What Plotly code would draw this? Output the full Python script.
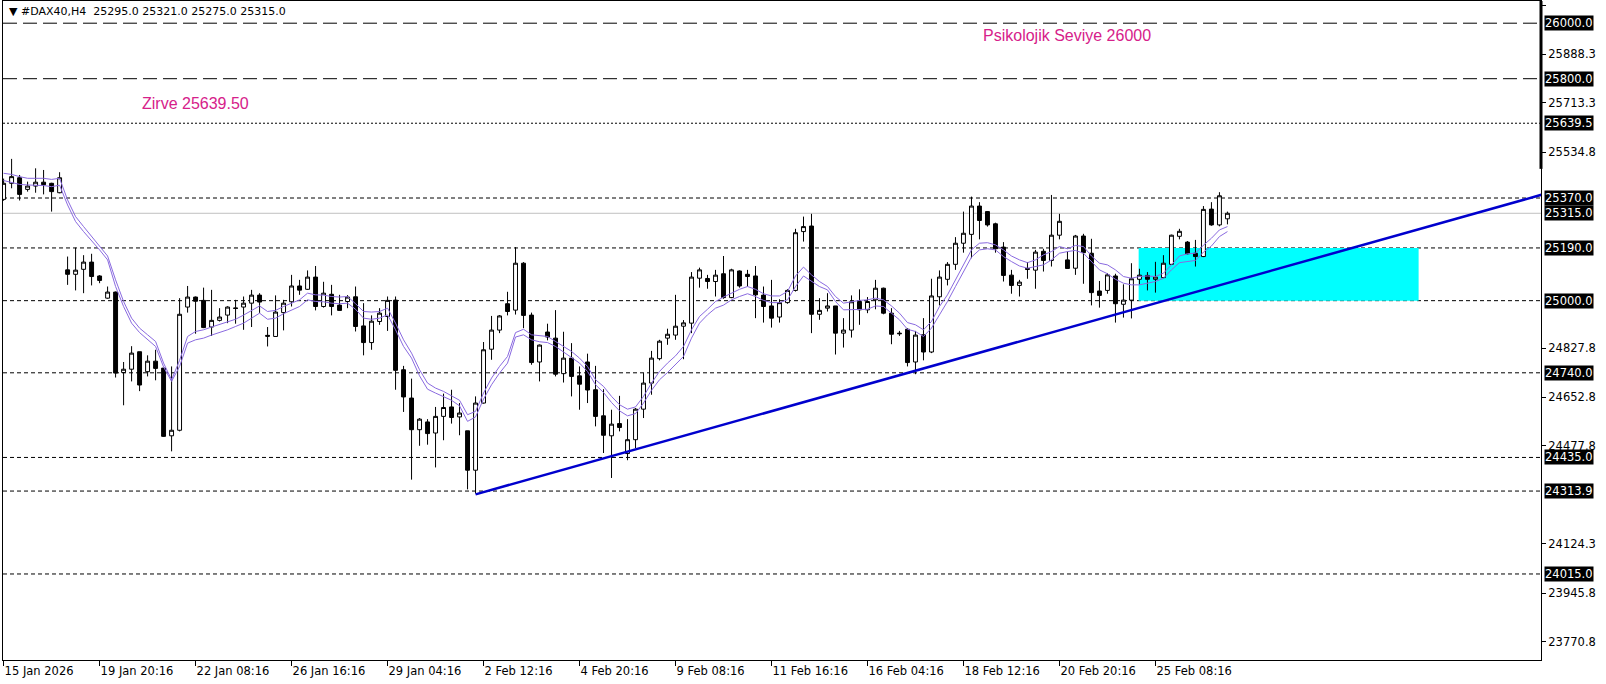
import plotly.graph_objects as go

# ---------------- data ----------------
opens = [
25365, 25423, 25443, 25401, 25413, 25427, 25423, 25389, 25111, 25095,
25113, 25139, 25089, 25009, 25031, 24741, 24753, 24816, 24744, 24782,
24757, 24513, 24533, 24977, 25013, 25001, 24905, 24929, 24948, 24974,
24977, 24991, 25020, 24875, 24871, 24957, 24996, 25053, 25041, 25085,
24979, 25023, 24984, 24997, 25014, 24909, 24849, 24925, 24943, 25002,
24751, 24649, 24535, 24563, 24523, 24583, 24617, 24581, 24531, 24389,
24631, 24825, 24894, 24989, 24966, 25135, 24948, 24779, 24887, 24865,
24737, 24793, 24729, 24779, 24679, 24585, 24513, 24557, 24449, 24499,
24609, 24703, 24791, 24865, 24876, 24908, 24919, 25081, 25080, 25069,
25097, 25011, 25107, 25095, 25089, 25020, 24981, 24941, 24993, 25037,
25249, 25269, 24951, 24973, 24981, 24883, 24894, 24997, 24967, 25003,
25045, 24955, 24883, 24897, 24779, 24877, 24815, 25014, 25077, 25131,
25207, 25239, 25341, 25321, 25277, 25193, 25092, 25055, 25116, 25110,
25178, 25145, 25236, 25147, 25117, 25233, 25171, 25035, 25037, 25089,
24987, 25002, 25077, 25091, 25077, 25083, 25131, 25232, 25211, 25171,
25159, 25330, 25273, 25295]

highs = [
25440, 25511, 25453, 25429, 25477, 25471, 25425, 25463, 25159, 25191,
25164, 25169, 25092, 25051, 25033, 24779, 24836, 24816, 24803, 24823,
24757, 24763, 25009, 25053, 25015, 25047, 25039, 24973, 24980, 25003,
25015, 25039, 25027, 24905, 25019, 25003, 25093, 25075, 25109, 25125,
25068, 25057, 25021, 25020, 25051, 24991, 24947, 24973, 25015, 25015,
24765, 24719, 24577, 24573, 24617, 24665, 24679, 24631, 24531, 24655,
24851, 24945, 24948, 25032, 25193, 25139, 24957, 24842, 24917, 24966,
24888, 24847, 24763, 24809, 24765, 24681, 24607, 24657, 24573, 24613,
24739, 24819, 24859, 24899, 25021, 24930, 25103, 25119, 25093, 25111,
25161, 25115, 25109, 25111, 25125, 25051, 25075, 25005, 25041, 25259,
25303, 25313, 25009, 25027, 24981, 24937, 25019, 25041, 25013, 25075,
25047, 24973, 24891, 24901, 24891, 24937, 25079, 25109, 25139, 25229,
25321, 25375, 25355, 25323, 25281, 25211, 25111, 25075, 25139, 25183,
25187, 25381, 25313, 25177, 25237, 25241, 25223, 25071, 25099, 25097,
25059, 25135, 25115, 25103, 25140, 25164, 25238, 25259, 25215, 25219,
25341, 25355, 25391, 25321]

lows = [
25360, 25405, 25361, 25393, 25389, 25383, 25321, 25387, 25057, 25037,
25027, 25055, 25063, 25007, 24723, 24623, 24709, 24674, 24727, 24713,
24509, 24457, 24529, 24957, 24881, 24901, 24873, 24925, 24919, 24917,
24895, 24905, 24955, 24835, 24870, 24893, 24979, 25021, 25039, 24965,
24975, 24947, 24964, 24973, 24889, 24803, 24823, 24913, 24891, 24679,
24599, 24355, 24477, 24481, 24399, 24497, 24557, 24515, 24320, 24305,
24629, 24787, 24883, 24947, 24950, 24901, 24769, 24709, 24857, 24727,
24705, 24655, 24607, 24631, 24547, 24451, 24361, 24529, 24425, 24469,
24577, 24661, 24785, 24841, 24859, 24789, 24883, 25047, 25043, 25015,
25007, 25009, 25047, 25051, 24937, 24921, 24903, 24921, 24989, 25033,
25213, 24883, 24931, 24961, 24806, 24831, 24867, 24913, 24955, 24969,
24951, 24843, 24873, 24763, 24735, 24785, 24811, 24983, 25055, 25111,
25173, 25153, 25221, 25267, 25173, 25069, 25025, 25015, 25079, 25043,
25105, 25123, 25221, 25115, 25093, 25061, 24983, 24975, 25025, 24921,
24939, 24936, 25059, 25037, 25029, 25081, 25129, 25221, 25167, 25123,
25157, 25270, 25268, 25275]

closes = [
25423, 25447, 25383, 25413, 25427, 25418, 25393, 25443, 25095, 25110,
25139, 25087, 25073, 25031, 24739, 24753, 24811, 24696, 24782, 24756,
24511, 24533, 24951, 25013, 24998, 24903, 24929, 24941, 24977, 24972,
24991, 25020, 24995, 24872, 24959, 24991, 25053, 25038, 25085, 24979,
25027, 24979, 24965, 25013, 24907, 24849, 24926, 24955, 25001, 24749,
24653, 24535, 24573, 24521, 24583, 24615, 24579, 24595, 24389, 24631,
24823, 24894, 24945, 24961, 25135, 24947, 24777, 24840, 24869, 24735,
24793, 24727, 24699, 24678, 24583, 24515, 24555, 24543, 24499, 24609,
24703, 24793, 24854, 24879, 24908, 24920, 25085, 25111, 25069, 25092,
25011, 25111, 25053, 25087, 25021, 24979, 24937, 24993, 25037, 25245,
25267, 24951, 24965, 24981, 24883, 24894, 24996, 24967, 24997, 25045,
24955, 24879, 24881, 24777, 24876, 24815, 25017, 25085, 25131, 25207,
25243, 25341, 25289, 25273, 25187, 25091, 25055, 25067, 25113, 25175,
25145, 25236, 25286, 25116, 25233, 25173, 25029, 25019, 25093, 24989,
25002, 25079, 25092, 25077, 25085, 25135, 25236, 25250, 25169, 25159,
25329, 25273, 25378, 25315]

ma_upper = [
25459, 25455, 25447, 25441, 25441, 25441, 25437, 25441, 25363, 25303,
25267, 25233, 25195, 25161, 25075, 24997, 24937, 24901, 24877, 24853,
24775, 24715, 24785, 24871, 24889, 24895, 24905, 24914, 24924, 24933,
24948, 24965, 24981, 24961, 24965, 24979, 24991, 25003, 25027, 25021,
25020, 25015, 25013, 25015, 24989, 24961, 24959, 24961, 24973, 24919,
24859, 24811, 24751, 24703, 24685, 24673, 24657, 24641, 24589, 24601,
24667, 24721, 24763, 24799, 24885, 24897, 24877, 24873, 24871, 24853,
24835, 24817, 24793, 24763, 24715, 24691, 24655, 24625, 24609, 24617,
24655, 24703, 24745, 24775, 24801, 24835, 24895, 24943, 24969, 24997,
25013, 25027, 25041, 25051, 25041, 25025, 25017, 25017, 25033, 25089,
25121, 25093, 25069, 25051, 25015, 24991, 24997, 25001, 25003, 25009,
25003, 24981, 24955, 24921, 24913, 24895, 24925, 24979, 25021, 25075,
25129, 25183, 25207, 25209, 25201, 25183, 25161, 25147, 25137, 25147,
25165, 25177, 25195, 25187, 25199, 25195, 25161, 25135, 25129, 25111,
25087, 25081, 25087, 25089, 25087, 25099, 25129, 25161, 25169, 25171,
25200, 25225, 25255, 25267]

ma_lower = [
25433, 25427, 25419, 25417, 25416, 25415, 25411, 25416, 25345, 25285,
25249, 25217, 25183, 25147, 25051, 24979, 24919, 24885, 24861, 24835,
24761, 24709, 24763, 24847, 24859, 24865, 24876, 24885, 24895, 24907,
24919, 24937, 24955, 24933, 24937, 24953, 24967, 24979, 25003, 24997,
24996, 24991, 24989, 24991, 24969, 24937, 24933, 24937, 24949, 24895,
24835, 24793, 24729, 24681, 24667, 24655, 24641, 24621, 24565, 24581,
24645, 24697, 24739, 24775, 24869, 24877, 24859, 24852, 24849, 24835,
24816, 24797, 24775, 24745, 24697, 24669, 24633, 24603, 24585, 24593,
24631, 24677, 24715, 24741, 24769, 24799, 24865, 24919, 24949, 24973,
24984, 25003, 25015, 25025, 25015, 25001, 24993, 24993, 25003, 25051,
25089, 25069, 25051, 25039, 24997, 24967, 24967, 24967, 24969, 24981,
24979, 24955, 24931, 24897, 24889, 24871, 24901, 24949, 24997, 25051,
25105, 25157, 25183, 25187, 25183, 25159, 25141, 25125, 25117, 25123,
25129, 25147, 25171, 25177, 25181, 25171, 25141, 25111, 25097, 25077,
25063, 25057, 25057, 25063, 25069, 25081, 25111, 25137, 25141, 25145,
25175, 25197, 25231, 25249]

bar_index = list(range(len(closes)))
assert len(opens) == len(highs) == len(lows) == len(closes) == len(ma_upper) == len(ma_lower) == 154

x_tick_bars = [0, 12, 24, 36, 48, 60, 72, 84, 96, 108, 120, 132, 144]
x_tick_text = ["15 Jan 2026", "19 Jan 20:16", "22 Jan 08:16", "26 Jan 16:16",
               "29 Jan 04:16", "2 Feb 12:16", "4 Feb 20:16", "9 Feb 08:16",
               "11 Feb 16:16", "16 Feb 04:16", "18 Feb 12:16", "20 Feb 20:16",
               "25 Feb 08:16"]

y_tick_vals = [26063.3, 25888.3, 25713.3, 25534.8, 24827.8, 24652.8,
               24477.8, 24124.3, 23945.8, 23770.8]

levels_long_dash = [26000.0, 25800.0]
levels_dotted = [25639.5, 25370.0, 25190.0, 25000.0, 24740.0, 24435.0, 24313.9, 24015.0]
bid_level = 25315.0
price_labels = [26000.0, 25800.0, 25639.5, 25370.0, 25315.0, 25190.0,
                25000.0, 24740.0, 24435.0, 24313.9, 24015.0]

zone_x = [141.9, 176.9]
zone_y = [25000.0, 25190.0]

trend_x = [59, 192.3]
trend_y = [24302, 25382]

header_text = "▼ #DAX40,H4\u00a0\u00a025295.0 25321.0 25275.0 25315.0"
note_top = ("Psikolojik Seviye 26000", 122.2, 25954)
note_peak = ("Zirve 25639.50", 17.1, 25709)

X_RANGE = [-0.075, 192.2]
Y_RANGE = [23705, 26080]

FONT = "DejaVu Sans"
PINK = "#D6218A"

# ---------------- figure ----------------
fig = go.Figure()

fig.add_trace(go.Candlestick(
    x=bar_index, open=opens, high=highs, low=lows, close=closes,
    increasing=dict(line=dict(color="black", width=1), fillcolor="white"),
    decreasing=dict(line=dict(color="black", width=1), fillcolor="black"),
    whiskerwidth=0, showlegend=False, hoverinfo="x+y",
))

fig.add_trace(go.Scatter(x=bar_index, y=ma_upper, mode="lines",
                         line=dict(color="#8A6AE0", width=1), showlegend=False, hoverinfo="skip"))
fig.add_trace(go.Scatter(x=bar_index, y=ma_lower, mode="lines",
                         line=dict(color="#8A6AE0", width=1), showlegend=False, hoverinfo="skip"))

fig.add_trace(go.Scatter(x=trend_x, y=trend_y, mode="lines",
                         line=dict(color="#0000CD", width=2.5), showlegend=False, hoverinfo="skip"))

shapes = []
shapes.append(dict(type="rect", xref="x", yref="y", x0=zone_x[0], x1=zone_x[1],
                   y0=zone_y[0], y1=zone_y[1], fillcolor="#00FFFF",
                   line=dict(width=0), layer="below"))
for lv in levels_long_dash:
    shapes.append(dict(type="line", xref="paper", yref="y", x0=0, x1=1, y0=lv, y1=lv,
                       line=dict(color="black", width=1, dash="14px,6px"), layer="below"))
for lv in levels_dotted:
    dash = "2px,2px" if lv == 25639.5 else "4px,3px"
    shapes.append(dict(type="line", xref="paper", yref="y", x0=0, x1=1, y0=lv, y1=lv,
                       line=dict(color="black", width=1, dash=dash), layer="below"))
shapes.append(dict(type="line", xref="paper", yref="y", x0=0, x1=1, y0=bid_level, y1=bid_level,
                   line=dict(color="#C0C0C0", width=1), layer="below"))
shapes.append(dict(type="line", xref="paper", yref="y", x0=1, x1=1, y0=25475, y1=Y_RANGE[1],
                   line=dict(color="black", width=3)))

annotations = []
for lv in price_labels:
    annotations.append(dict(x=1, xref="paper", xanchor="left", xshift=3,
                            y=lv, yref="y", yanchor="middle",
                            text=f"{lv:.1f}", showarrow=False, bgcolor="black",
                            borderpad=0, font=dict(family=FONT, size=11.5, color="white")))
annotations.append(dict(x=0, xref="paper", xanchor="left", xshift=4,
                        y=1, yref="paper", yanchor="top", yshift=-2,
                        text=header_text, showarrow=False,
                        font=dict(family=FONT, size=11, color="black")))
for txt, xi, yv in (note_top, note_peak):
    annotations.append(dict(x=xi, xref="x", xanchor="left", y=yv, yref="y", yanchor="middle",
                            text=txt, showarrow=False,
                            font=dict(family="Liberation Sans", size=16, color=PINK)))

fig.update_layout(
    width=1606, height=684,
    margin=dict(l=3, r=65, t=1, b=24, pad=0),
    paper_bgcolor="white", plot_bgcolor="white",
    showlegend=False,
    shapes=shapes, annotations=annotations,
    font=dict(family=FONT, size=11.5, color="black"),
    xaxis=dict(range=X_RANGE, showgrid=False, zeroline=False,
               showline=True, linecolor="black", linewidth=1, mirror=True,
               ticks="outside", ticklen=5, tickcolor="black",
               tickvals=x_tick_bars, ticktext=x_tick_text,
               ticklabelposition="outside right",
               tickfont=dict(family=FONT, size=11.5, color="black"),
               rangeslider=dict(visible=False)),
    yaxis=dict(range=Y_RANGE, side="right", showgrid=False, zeroline=False,
               showline=True, linecolor="black", linewidth=1, mirror=True,
               ticks="outside", ticklen=4, tickcolor="black",
               tickvals=y_tick_vals, ticktext=[f"{v:.1f}" for v in y_tick_vals],
               tickfont=dict(family=FONT, size=11.5, color="black")),
)

fig.write_html("out.html",
               config={"displayModeBar": False},
               post_script="document.body.style.margin='0px';document.body.style.overflow='hidden';")
